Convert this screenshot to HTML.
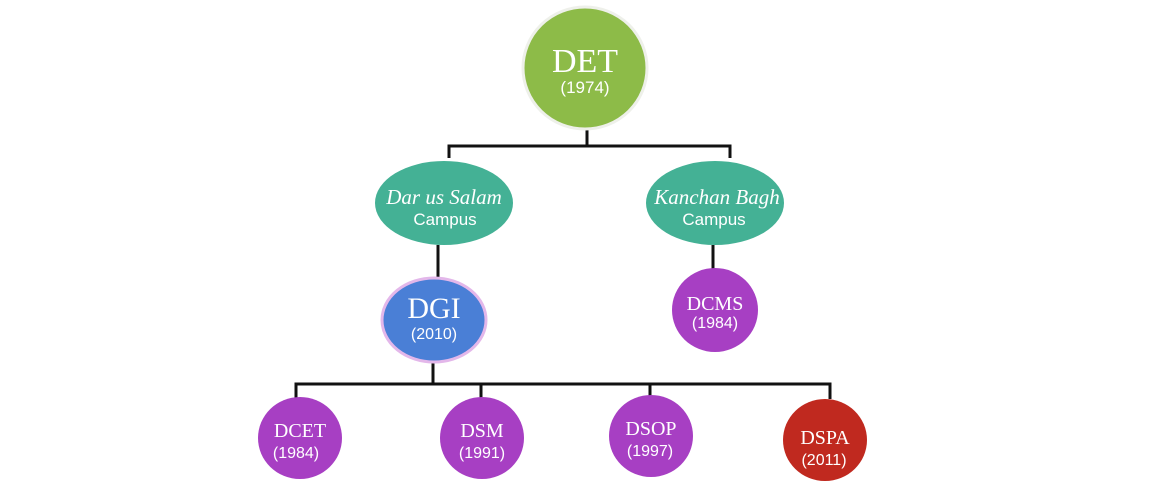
<!DOCTYPE html>
<html><head><meta charset="utf-8"><style>
html,body{margin:0;padding:0;background:#fff;}
svg{display:block}
.t{font-family:"Liberation Serif",serif;fill:#fff;text-anchor:middle}
.s{font-family:"Liberation Sans",sans-serif;fill:#fff;text-anchor:middle}
</style></head><body>
<svg width="1170" height="504" viewBox="0 0 1170 504" xmlns="http://www.w3.org/2000/svg">
<g stroke="#111" stroke-width="3" fill="none">
<path d="M587 129V146M449 158V146H730V158"/>
<path d="M438 245V279"/>
<path d="M713 245V269"/>
<path d="M433 362V384M296 399V384H830V399M481 384V399M650 384V399"/>
</g>
<ellipse cx="585" cy="68" rx="62" ry="61" fill="#8dbb48" stroke="#eef0ea" stroke-width="3"/>
<text class="t" x="585" y="72" font-size="34">DET</text>
<text class="s" x="585" y="93" font-size="17">(1974)</text>

<ellipse cx="444" cy="203" rx="69" ry="42" fill="#44b195"/>
<text class="t" x="444" y="204" font-size="21" font-style="italic">Dar us Salam</text>
<text class="s" x="445" y="225" font-size="17">Campus</text>
<ellipse cx="715" cy="203" rx="69" ry="42" fill="#44b195"/>
<text class="t" x="717" y="204" font-size="21" font-style="italic">Kanchan Bagh</text>
<text class="s" x="714" y="225" font-size="17">Campus</text>

<ellipse cx="434" cy="320" rx="52" ry="42" fill="#4a7fd6" stroke="#e3b7ea" stroke-width="3"/>
<text class="t" x="434" y="318" font-size="30">DGI</text>
<text class="s" x="434" y="339" font-size="16" fill="#e8eefc">(2010)</text>

<ellipse cx="715" cy="310" rx="43" ry="42" fill="#a73fc3"/>
<text class="t" x="715" y="310" font-size="20">DCMS</text>
<text class="s" x="715" y="328" font-size="16">(1984)</text>

<ellipse cx="300" cy="438" rx="42" ry="41" fill="#a73fc3"/>
<text class="t" x="300" y="437" font-size="20">DCET</text>
<text class="s" x="296" y="458" font-size="16">(1984)</text>
<ellipse cx="482" cy="438" rx="42" ry="41" fill="#a73fc3"/>
<text class="t" x="482" y="437" font-size="20">DSM</text>
<text class="s" x="482" y="458" font-size="16">(1991)</text>
<ellipse cx="651" cy="436" rx="42" ry="41" fill="#a73fc3"/>
<text class="t" x="651" y="435" font-size="20">DSOP</text>
<text class="s" x="650" y="456" font-size="16">(1997)</text>
<ellipse cx="825" cy="440" rx="42" ry="41" fill="#c0291f"/>
<text class="t" x="825" y="444" font-size="20">DSPA</text>
<text class="s" x="824" y="465" font-size="16">(2011)</text>
</svg>
</body></html>
